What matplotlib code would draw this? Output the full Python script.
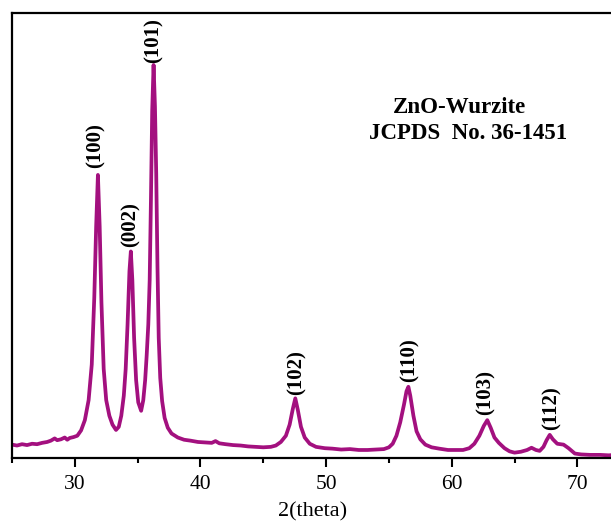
import matplotlib.pyplot as plt
from matplotlib.ticker import MultipleLocator

# XRD pattern (2theta in degrees, intensity in a.u.)
two_theta = [
    25.0, 25.4, 25.8, 26.2, 26.6, 27.0, 27.4, 27.8, 28.1, 28.4, 28.6, 28.9,
    29.2, 29.4, 29.6, 29.9, 30.2, 30.5, 30.8, 31.1, 31.35, 31.55, 31.7, 31.84,
    31.98, 32.12, 32.3, 32.5, 32.75, 33.0, 33.28, 33.5, 33.7, 33.9, 34.05, 34.2,
    34.35, 34.46, 34.58, 34.72, 34.88, 35.05, 35.28, 35.45, 35.6, 35.72, 35.85,
    35.96, 36.06, 36.16, 36.27, 36.38, 36.48, 36.58, 36.68, 36.8, 36.95, 37.15,
    37.4, 37.7, 38.2, 38.7, 39.2, 39.8, 40.4, 40.9, 41.2, 41.5, 42.0, 42.6,
    43.2, 43.8, 44.4, 45.0, 45.6, 46.0, 46.4, 46.8, 47.1, 47.35, 47.55, 47.75,
    48.0, 48.3, 48.7, 49.2, 49.9, 50.5, 51.2, 51.9, 52.6, 53.3, 54.0, 54.6,
    55.0, 55.3, 55.6, 55.9, 56.2, 56.4, 56.55, 56.7, 56.95, 57.2, 57.5, 57.9,
    58.4, 59.0, 59.7, 60.3, 60.9, 61.4, 61.8, 62.2, 62.55, 62.83, 63.1, 63.4,
    63.75, 64.2, 64.6, 65.0, 65.5, 66.0, 66.35, 66.7, 67.0, 67.3, 67.55, 67.8,
    68.05, 68.4, 68.9, 69.3, 69.8, 70.3, 71.0, 71.8, 72.5, 73.0,
]
intensity = [
    30, 28, 31, 29, 32, 31, 34, 36, 39, 44, 40, 42,
    46, 41, 45, 47, 50, 62, 85, 130, 210, 360, 520, 636,
    520, 350, 200, 130, 95, 75, 63, 70, 95, 140, 200, 300,
    420, 464, 400, 270, 175, 125, 106, 130, 175, 230, 300,
    400, 580, 780, 883, 790, 640, 430, 270, 180, 128, 90,
    68, 55, 46, 41, 39, 36, 35, 34, 38, 33, 31, 29,
    28, 26, 25, 24, 25, 28, 36, 50, 75, 110, 134, 108,
    70, 46, 32, 25, 22, 21, 19, 20, 18, 18, 19, 20,
    24, 32, 50, 80, 120, 150, 160, 140, 95, 60, 42, 30,
    24, 21, 18, 18, 18, 22, 32, 50, 72, 85, 68, 46,
    34, 22, 15, 12, 14, 18, 23, 18, 16, 25, 40, 52,
    42, 32, 30, 22, 10, 8, 7, 7, 6, 7,
]

# Miller index labels and where they sit (2theta, height)
peak_labels = ["(100)", "(002)", "(101)", "(102)", "(110)", "(103)", "(112)"]
label_x = [31.68, 34.48, 36.24, 47.68, 56.64, 62.72, 67.92]
label_y = [703, 524, 939, 193, 220, 148, 112]

line_color = "#A3107F"


def main() -> None:
    plt.rcParams["font.family"] = ["Liberation Serif", "DejaVu Serif"]

    fig = plt.figure(figsize=(6.11, 5.23), dpi=100)
    ax = fig.add_axes([0.0196, 0.1243, 0.985, 0.851])

    ax.plot(two_theta, intensity, color=line_color, lw=2.7)

    for txt, x, y in zip(peak_labels, label_x, label_y):
        ax.text(x, y, txt, rotation=90, ha="center", va="center",
                fontsize=15, fontweight="bold")

    ax.text(60.64, 787, "ZnO-Wurzite", ha="center", va="center",
            fontsize=16.5, fontweight="bold")
    ax.text(61.28, 730, "JCPDS  No. 36-1451", ha="center", va="center",
            fontsize=16.5, fontweight="bold")

    ax.set_xlim(25, 72.9)
    ax.set_ylim(0, 1000)
    ax.xaxis.set_major_locator(MultipleLocator(10))
    ax.xaxis.set_minor_locator(MultipleLocator(5))
    ax.set_yticks([])
    ax.tick_params(axis="x", which="major", direction="out", length=6.5,
                   width=1.5, labelsize=15.5, pad=6)
    ax.tick_params(axis="x", which="minor", direction="out", length=3.5,
                   width=1.5)
    for side in ["left", "top", "bottom"]:
        ax.spines[side].set_linewidth(1.6)
    ax.spines["right"].set_visible(False)

    ax.set_xlabel("2(theta)", fontsize=16, labelpad=6)

    fig.savefig("out.png", dpi=100)


if __name__ == "__main__":
    main()
